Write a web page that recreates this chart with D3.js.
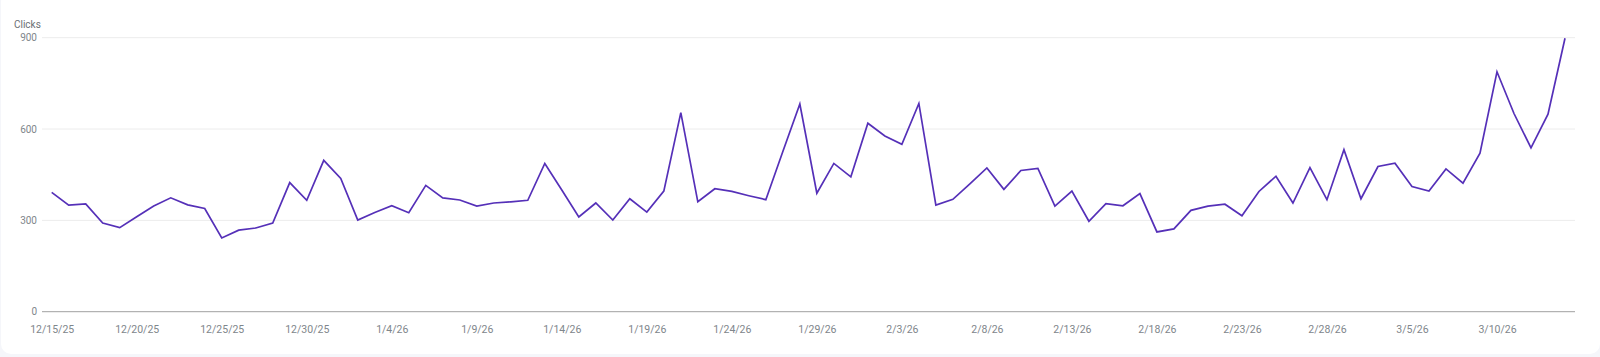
<!DOCTYPE html>
<html>
<head>
<meta charset="utf-8">
<script src="https://cdn.jsdelivr.net/npm/d3@7"></script>
<style>
  html, body { margin: 0; padding: 0; background: #f5f6fa; }
  body { width: 1600px; height: 357px; overflow: hidden; }
  #card { position: absolute; left: 1px; top: -8px; width: 1599px; height: 362px; background: #fff; border-radius: 10px; }
  svg { position: absolute; left: 0; top: 0; }
  text { font-family: Roboto, "Noto Sans", sans-serif; }
</style>
</head>
<body>
<div id="card"></div>
<svg id="chart" width="1600" height="357"></svg>
<script>
const startDate = "2025-12-15";
const clicks = [
  392, 350, 354, 291, 276, 312, 347, 374, 351, 339,
  242, 268, 275, 291, 424, 366, 497, 438, 301, 326,
  348, 325, 415, 374, 367, 347, 357, 361, 366, 487,
  400, 311, 357, 301, 371, 327, 396, 654, 361, 404,
  395, 381, 368, 526, 682, 389, 487, 443, 619, 577,
  550, 684, 350, 369, 420, 472, 402, 464, 471, 347,
  396, 297, 355, 348, 388, 262, 272, 333, 347, 353,
  315, 395, 445, 357, 473, 368, 532, 371, 477, 488,
  411, 396, 469, 422, 521, 788, 651, 538, 649, 898
];
const yTicks = [0, 300, 600, 900];
const yLabel = "Clicks";

const parse = d3.utcParse("%Y-%m-%d");
const t0 = parse(startDate);
const data = clicks.map((v, i) => ({ date: d3.utcDay.offset(t0, i), value: v }));
const fmt = d3.utcFormat("%-m/%-d/%y");

const svg = d3.select("#chart");
const mLeft = 42, mRight = 1575, mTop = 37.7, mBottom = 311.7;

const x = d3.scaleUtc()
  .domain(d3.extent(data, d => d.date))
  .range([51.7, 1565]);
const y = d3.scaleLinear().domain([0, 900]).range([mBottom, mTop]);

// gridlines
svg.append("g")
  .selectAll("line")
  .data(yTicks.filter(d => d !== 0))
  .join("line")
  .attr("x1", mLeft).attr("x2", mRight)
  .attr("y1", d => y(d)).attr("y2", d => y(d))
  .attr("stroke", "#ececec").attr("stroke-width", 1);

// y axis labels
const yAxis = svg.append("g")
  .attr("transform", `translate(${mLeft},0)`)
  .call(d3.axisLeft(y).tickValues(yTicks).tickSize(0).tickPadding(5).tickFormat(d3.format("d")));
yAxis.select(".domain").remove();
yAxis.selectAll("text").attr("fill", "#80868b").attr("font-size", 10);

// baseline
svg.append("line")
  .attr("x1", mLeft).attr("x2", mRight)
  .attr("y1", mBottom).attr("y2", mBottom)
  .attr("stroke", "#a0a0a0").attr("stroke-width", 1);

// x axis
const xTickVals = data.filter((d, i) => i % 5 === 0).map(d => d.date);
const xAxis = svg.append("g")
  .attr("transform", `translate(0,${mBottom})`)
  .call(d3.axisBottom(x).tickValues(xTickVals).tickSize(0).tickPadding(13.5).tickFormat(fmt));
xAxis.select(".domain").remove();
xAxis.selectAll("text").attr("fill", "#80868b").attr("font-size", 10.5);

// y label
svg.append("text")
  .attr("x", 14).attr("y", 27.5)
  .attr("fill", "#6b6f73").attr("font-size", 10)
  .text(yLabel);

// line
svg.append("path")
  .datum(data)
  .attr("fill", "none")
  .attr("stroke", "#5530b8")
  .attr("stroke-width", 1.7)
  .attr("stroke-linejoin", "miter")
  .attr("d", d3.line().x(d => x(d.date)).y(d => y(d.value)));
</script>
</body>
</html>
